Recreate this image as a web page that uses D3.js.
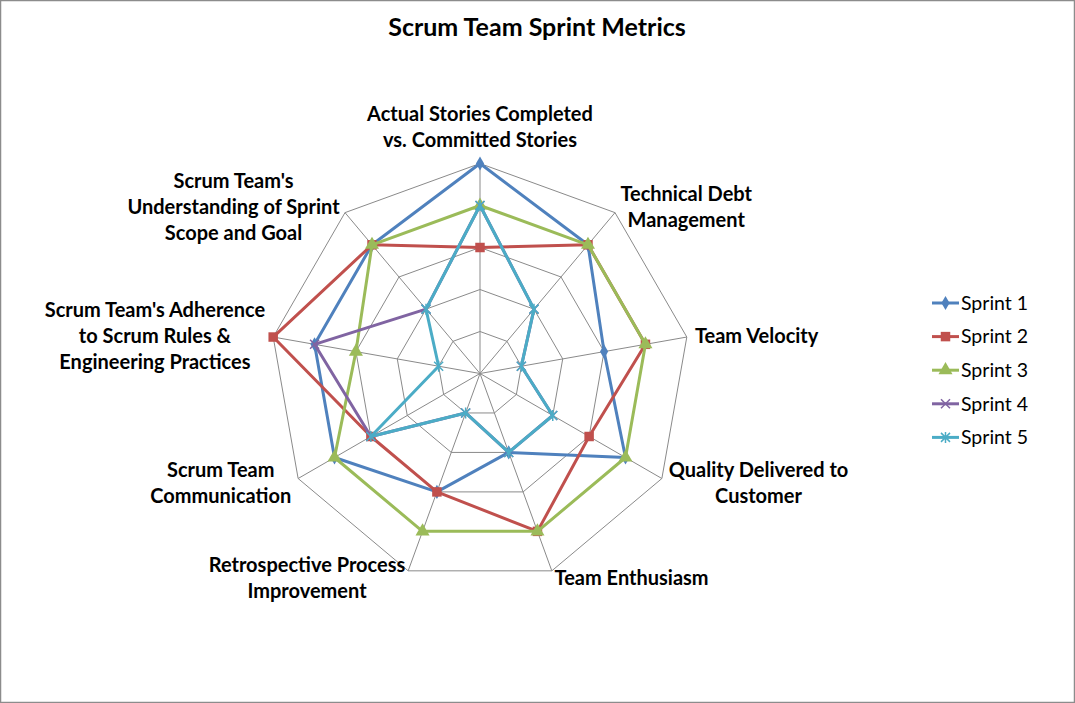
<!DOCTYPE html>
<html>
<head>
<meta charset="utf-8">
<script src="https://cdn.jsdelivr.net/npm/d3@7"></script>
<style>
  body { margin: 0; background: #fff; }
  text { font-family: Lato, "Open Sans", sans-serif; fill: #000; }
</style>
</head>
<body>
<div id="chart"></div>
<script>
// axis labels, clockwise from the top ("\n" = line break)
var axisLabels = [
    "Actual Stories Completed\nvs. Committed Stories",
    "Technical Debt\nManagement",
    "Team Velocity",
    "Quality Delivered to\nCustomer",
    "Team Enthusiasm",
    "Retrospective Process\nImprovement",
    "Scrum Team\nCommunication",
    "Scrum Team's Adherence\nto Scrum Rules &\nEngineering Practices",
    "Scrum Team's\nUnderstanding of Sprint\nScope and Goal"
];

var seriesNames = ["Sprint 1", "Sprint 2", "Sprint 3", "Sprint 4", "Sprint 5"];
var sprint1 = [5, 4, 3, 4, 2, 3, 4, 4, 4];
var sprint2 = [3, 4, 4, 3, 4, 3, 3, 5, 4];
var sprint3 = [4, 4, 4, 4, 4, 4, 4, 3, 4];
var sprint4 = [4, 2, 1, 2, 2, 1, 3, 4, 2];
var sprint5 = [4, 2, 1, 2, 2, 1, 3, 1, 2];
var ringTicks = [1, 2, 3, 4, 5];

function init(){
    var w = 1075;
    var h = 703;
    var cx = 480, cy = 373.5;
    var outer = 210;

    var allSeries = [sprint1, sprint2, sprint3, sprint4, sprint5];
    var colors = ["#4F81BD", "#C0504D", "#9BBB59", "#8064A2", "#4BACC6"];
    var markers = ["diamond", "square", "triangle", "times", "asterisk"];

    var n = axisLabels.length;
    var angle = d3.scaleLinear().domain([0, n]).range([0, 2 * Math.PI]);
    var r = d3.scaleLinear().domain([0, 5]).range([0, outer]);

    var svg = d3.select("#chart")
                .append("svg")
                .attr("width", w)
                .attr("height", h);

    // chart border
    svg.append("rect")
       .attr("x", 0.5).attr("y", 0.5)
       .attr("width", w - 1).attr("height", h - 1)
       .attr("fill", "#fff")
       .attr("stroke", "#8c8c8c")
       .attr("stroke-width", 1.5);

    // title
    svg.append("text")
       .attr("x", 537)
       .attr("y", 36)
       .attr("text-anchor", "middle")
       .attr("font-size", 25)
       .attr("font-weight", "bold")
       .text("Scrum Team Sprint Metrics");

    var plot = svg.append("g")
                  .attr("transform", "translate(" + cx + "," + cy + ")");

    var idx = d3.range(n);

    // grid rings
    var ringLine = d3.lineRadial()
                     .angle(function(i){ return angle(i); })
                     .curve(d3.curveLinearClosed);
    plot.selectAll("path.ring")
        .data(ringTicks)
        .enter()
        .append("path")
        .attr("class", "ring")
        .attr("fill", "none")
        .attr("stroke", "#8a8a8a")
        .attr("stroke-width", 1)
        .attr("d", function(t){
            return ringLine.radius(r(t))(idx);
        });

    // spokes
    plot.selectAll("line.spoke")
        .data(idx)
        .enter()
        .append("line")
        .attr("class", "spoke")
        .attr("x1", 0).attr("y1", 0)
        .attr("x2", function(i){ return d3.pointRadial(angle(i), r(5))[0]; })
        .attr("y2", function(i){ return d3.pointRadial(angle(i), r(5))[1]; })
        .attr("stroke", "#8a8a8a")
        .attr("stroke-width", 1);

    // marker shapes
    function markerPath(kind){
        if (kind === "diamond") return d3.symbol().type(d3.symbolDiamond).size(58)();
        if (kind === "square") return d3.symbol().type(d3.symbolSquare).size(90)();
        if (kind === "triangle") return d3.symbol().type(d3.symbolTriangle).size(85)();
        if (kind === "times") return "M-4.5,-4.5L4.5,4.5M-4.5,4.5L4.5,-4.5";
        return "M-4.5,-4.5L4.5,4.5M-4.5,4.5L4.5,-4.5M0,-5.5L0,5.5";
    }
    function isStroke(kind){ return kind === "times" || kind === "asterisk"; }

    // series
    var seriesLine = d3.lineRadial()
                       .angle(function(d, i){ return angle(i); })
                       .radius(function(d){ return r(d); })
                       .curve(d3.curveLinearClosed);

    var groups = plot.selectAll("g.series")
                     .data(allSeries)
                     .enter()
                     .append("g")
                     .attr("class", "series");

    groups.append("path")
          .attr("fill", "none")
          .attr("stroke", function(d, i){ return colors[i]; })
          .attr("stroke-width", 3)
          .attr("stroke-linejoin", "round")
          .attr("d", function(d){ return seriesLine(d); });

    groups.each(function(vals, s){
        d3.select(this).selectAll("path.mark")
          .data(vals)
          .enter()
          .append("path")
          .attr("class", "mark")
          .attr("transform", function(d, i){
              var p = d3.pointRadial(angle(i), r(d));
              return "translate(" + p[0] + "," + p[1] + ")";
          })
          .attr("d", markerPath(markers[s]))
          .attr("fill", isStroke(markers[s]) ? "none" : colors[s])
          .attr("stroke", colors[s])
          .attr("stroke-width", isStroke(markers[s]) ? 1.5 : 0);
    });

    // axis labels
    var lineH = 26;
    axisLabels.forEach(function(label, i){
        var a = angle(i);
        var v = d3.pointRadial(a, r(5));
        var lines = label.split("\n");
        var g = plot.append("g");
        var t = g.append("text")
                 .attr("text-anchor", "middle")
                 .attr("font-size", 20)
                 .attr("font-weight", "bold");
        lines.forEach(function(l, k){
            t.append("tspan")
             .attr("x", 0)
             .attr("y", (k - (lines.length - 1) / 2) * lineH)
             .attr("dy", "0.35em")
             .text(l);
        });
        var bw = t.node().getBBox().width;
        var s = Math.sin(a), c = Math.cos(a);
        var x, y;
        if (Math.abs(s) < 0.1) {
            x = v[0];
            y = v[1] - 11 - lines.length * lineH / 2;
        } else {
            var gap = 8 * Math.abs(s);
            x = s > 0 ? v[0] + gap + bw / 2 : v[0] - gap - bw / 2;
            y = v[1] - 8 * c;
        }
        g.attr("transform", "translate(" + x + "," + y + ")");
    });

    // legend
    var legend = svg.append("g")
                    .attr("transform", "translate(932,303)");
    var items = legend.selectAll("g.item")
                      .data(seriesNames)
                      .enter()
                      .append("g")
                      .attr("class", "item")
                      .attr("transform", function(d, i){
                          return "translate(0," + (i * 33.6) + ")";
                      });
    items.append("line")
         .attr("x1", 0).attr("x2", 27)
         .attr("y1", 0).attr("y2", 0)
         .attr("stroke", function(d, i){ return colors[i]; })
         .attr("stroke-width", 3);
    items.append("path")
         .attr("transform", "translate(13.5,0)")
         .attr("d", function(d, i){ return markerPath(markers[i]); })
         .attr("fill", function(d, i){ return isStroke(markers[i]) ? "none" : colors[i]; })
         .attr("stroke", function(d, i){ return colors[i]; })
         .attr("stroke-width", function(d, i){ return isStroke(markers[i]) ? 1.5 : 0; });
    items.append("text")
         .attr("x", 29)
         .attr("y", 0)
         .attr("dy", "0.35em")
         .attr("font-size", 19.5)
         .text(function(d){ return d; });
}
window.onload = init;
</script>
</body>
</html>
